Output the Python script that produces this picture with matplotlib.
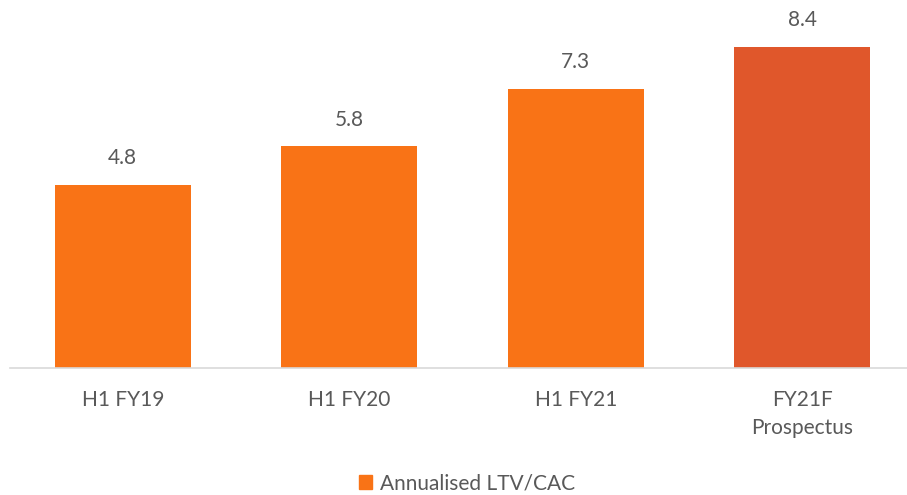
import matplotlib.pyplot as plt
from matplotlib.patches import Patch

# data
categories = ['H1 FY19', 'H1 FY20', 'H1 FY21', 'FY21F\nProspectus']
values = [4.8, 5.8, 7.3, 8.4]
colors = ['#F97316', '#F97316', '#F97316', '#E0572B']
series_name = 'Annualised LTV/CAC'

plt.rcParams['font.family'] = ['Lato', 'DejaVu Sans']
txt = '#595959'

fig = plt.figure(figsize=(9.07, 4.95), dpi=100)
ax = fig.add_axes([9.5 / 907, 127 / 495, 906 / 907, 368 / 495])

x = range(len(categories))
bars = ax.bar(x, values, width=0.6, color=colors, zorder=2)

for b, v in zip(bars, values):
    ax.annotate(f'{v:.1f}', (b.get_x() + b.get_width() / 2, v),
                xytext=(0, 12), textcoords='offset points',
                ha='center', va='bottom', fontsize=15, color=txt)

ax.set_xlim(-0.5, 3.5)
ax.set_ylim(0, 368 / 38.2)
ax.set_xticks(list(x))
ax.set_xticklabels(categories, fontsize=15, color=txt, linespacing=1.5)
ax.tick_params(axis='x', length=0, pad=16)
ax.set_yticks([])
for s in ['top', 'right', 'left']:
    ax.spines[s].set_visible(False)
ax.spines['bottom'].set_color('#D9D9D9')
ax.spines['bottom'].set_linewidth(1.2)

handles = [Patch(color=colors[0], label=series_name)]
fig.legend(handles=handles, loc='center', bbox_to_anchor=(467 / 907, 1 - 483 / 495),
           frameon=False, fontsize=15, labelcolor=txt,
           handlelength=0.65, handleheight=0.65, handletextpad=0.4)

fig.savefig('out.png', dpi=100)
